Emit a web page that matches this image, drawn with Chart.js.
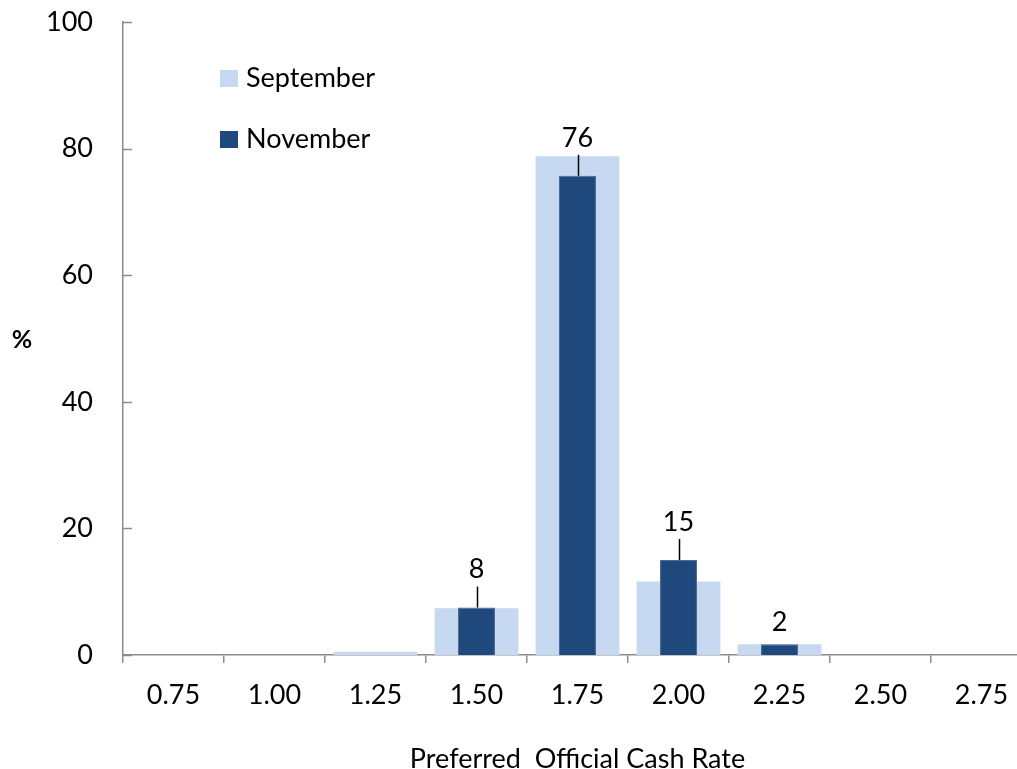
<!DOCTYPE html>
<html>
<head>
<meta charset="utf-8">
<script src="https://cdn.jsdelivr.net/npm/chart.js@4"></script>
<style>
  html, body { margin: 0; padding: 0; background: #fff; overflow: hidden; }
  #wrap { width: 1050px; height: 775px; }
</style>
</head>
<body>
<div id="wrap"><canvas id="rateChart"></canvas></div>
<script>
// Preferred Official Cash Rate survey
const rates = ['0.75', '1.00', '1.25', '1.50', '1.75', '2.00', '2.25', '2.50', '2.75'];
const september = [0, 0, 0.5, 7.4, 78.8, 11.6, 1.7, 0, 0];
const november = [0, 0, 0, 7.5, 75.7, 15.0, 1.7, 0, 0];
const novemberLabels = ['', '', '', '8', '76', '15', '2', '', ''];
const yTicks = [0, 20, 40, 60, 80, 100];

const FONT = 'Lato, "Open Sans", sans-serif';
const FS = 27;
const AXIS = '#8c8c8c';

const extras = {
    id: 'extras',
    afterDatasetsDraw(chart) {
        const ctx = chart.ctx;
        const yScale = chart.scales.y;
        const area = chart.chartArea;
        ctx.save();
        // inward tick marks on the value axis
        ctx.strokeStyle = AXIS;
        ctx.lineWidth = 1.5;
        yTicks.forEach(v => {
            const py = Math.round(yScale.getPixelForValue(v)) + 0.5;
            ctx.beginPath();
            ctx.moveTo(area.left, py);
            ctx.lineTo(area.left + 9, py);
            ctx.stroke();
        });
        // value labels with short leader lines on November bars
        const meta = chart.getDatasetMeta(1);
        ctx.fillStyle = '#000';
        ctx.strokeStyle = '#000';
        ctx.lineWidth = 1.5;
        ctx.font = FS + 'px ' + FONT;
        ctx.textAlign = 'center';
        ctx.textBaseline = 'middle';
        meta.data.forEach((bar, i) => {
            const txt = novemberLabels[i];
            if (!txt) return;
            const x = Math.round(bar.x) + 0.5;
            if (november[i] >= 5) {
                ctx.beginPath();
                ctx.moveTo(x, bar.y);
                ctx.lineTo(x, bar.y - 21);
                ctx.stroke();
                ctx.fillText(txt, bar.x, bar.y - 38);
            } else {
                ctx.fillText(txt, bar.x, bar.y - 22);
            }
        });
        // legend inside the plot
        const items = [
            { label: chart.data.datasets[0].label, color: chart.data.datasets[0].backgroundColor, y: 78 },
            { label: chart.data.datasets[1].label, color: chart.data.datasets[1].backgroundColor, y: 139 }
        ];
        ctx.textAlign = 'left';
        items.forEach(it => {
            ctx.fillStyle = it.color;
            ctx.fillRect(220, it.y - 8, 18, 17);
            ctx.fillStyle = '#000';
            ctx.fillText(it.label, 246, it.y);
        });
        // "%" label
        ctx.font = 'bold 25px ' + FONT;
        ctx.textAlign = 'center';
        ctx.fillText('%', 22, 340);
        ctx.restore();
    }
};

new Chart(document.getElementById('rateChart'), {
    type: 'bar',
    data: {
        labels: rates,
        datasets: [
            {
                label: 'September',
                data: september,
                backgroundColor: '#c6d9f0',
                barPercentage: 0.83,
                categoryPercentage: 1,
                grouped: false,
                order: 1
            },
            {
                label: 'November',
                data: november,
                backgroundColor: '#1f497d',
                borderColor: '#4a6a93',
                borderWidth: 1,
                barPercentage: 0.366,
                categoryPercentage: 1,
                grouped: false,
                order: 0
            }
        ]
    },
    options: {
        responsive: true,
        maintainAspectRatio: false,
        animation: false,
        layout: { padding: { left: 0, top: 22, right: 18, bottom: 0 } },
        plugins: { legend: { display: false }, tooltip: { enabled: false } },
        scales: {
            x: {
                grid: { display: true, drawOnChartArea: false, drawTicks: true, tickLength: 8, color: AXIS, lineWidth: 1.5 },
                border: { color: AXIS, width: 1.5 },
                ticks: { color: '#000', font: { family: FONT, size: FS }, padding: 16, maxRotation: 0 },
                title: { display: true, text: 'Preferred  Official Cash Rate', color: '#000', font: { family: FONT, size: FS }, padding: { top: 20, bottom: 0 } },
                afterFit: scale => { scale.height = 120; scale.paddingLeft = 0; scale.paddingRight = 0; }
            },
            y: {
                min: 0,
                max: 100,
                afterBuildTicks: scale => { scale.ticks = yTicks.map(v => ({ value: v })); },
                grid: { display: false },
                border: { color: AXIS, width: 1.5 },
                ticks: { color: '#000', font: { family: FONT, size: FS }, padding: 22 },
                afterFit: scale => { scale.width = 123; scale.paddingTop = 0; scale.paddingBottom = 0; }
            }
        }
    },
    plugins: [extras]
});
</script>
</body>
</html>
